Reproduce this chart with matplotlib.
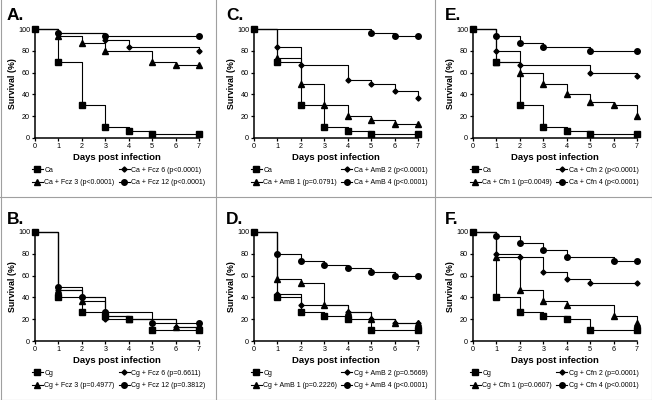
import matplotlib
matplotlib.use('Agg')
import matplotlib.pyplot as plt
from matplotlib.lines import Line2D

plt.rcParams['font.family'] = ['Liberation Sans', 'DejaVu Sans']

# control curves
ca_days = [0, 1, 2, 3, 4, 5, 7]
ca_surv = [100, 70, 30, 10, 6.7, 3.3, 3.3]
cg_days = [0, 1, 2, 3, 4, 5, 7]
cg_surv = [100, 40, 26.7, 23.3, 20, 10, 10]

# A. Ca + fluconazole
a_fcz3_days = [0, 1, 2, 3, 5, 6, 7]
a_fcz3_surv = [100, 93.3, 86.7, 80, 70, 66.7, 66.7]
a_fcz6_days = [0, 1, 3, 4, 7]
a_fcz6_surv = [100, 96.7, 90, 83.3, 80]
a_fcz12_days = [0, 1, 3, 7]
a_fcz12_surv = [100, 96.7, 93.3, 93.3]

# C. Ca + amphotericin B
c_amb1_days = [0, 1, 2, 3, 4, 5, 6, 7]
c_amb1_surv = [100, 73.3, 50, 30, 20, 16.7, 13.3, 13.3]
c_amb2_days = [0, 1, 2, 4, 5, 6, 7]
c_amb2_surv = [100, 83.3, 66.7, 53.3, 50, 43.3, 36.7]
c_amb4_days = [0, 5, 6, 7]
c_amb4_surv = [100, 96.7, 93.3, 93.3]

# E. Ca + caspofungin
e_cfn1_days = [0, 1, 2, 3, 4, 5, 6, 7]
e_cfn1_surv = [100, 70, 60, 50, 40, 33.3, 30, 20]
e_cfn2_days = [0, 1, 2, 5, 7]
e_cfn2_surv = [100, 80, 66.7, 60, 56.7]
e_cfn4_days = [0, 1, 2, 3, 5, 7]
e_cfn4_surv = [100, 93.3, 86.7, 83.3, 80, 80]

# B. Cg + fluconazole
b_fcz3_days = [0, 1, 2, 3, 4, 6, 7]
b_fcz3_surv = [100, 46.7, 36.7, 23.3, 20, 13.3, 13.3]
b_fcz6_days = [0, 1, 2, 3, 6, 7]
b_fcz6_surv = [100, 46.7, 40, 20, 13.3, 13.3]
b_fcz12_days = [0, 1, 2, 3, 5, 7]
b_fcz12_surv = [100, 50, 40, 26.7, 16.7, 16.7]

# D. Cg + amphotericin B
d_amb1_days = [0, 1, 2, 3, 4, 5, 6, 7]
d_amb1_surv = [100, 56.7, 53.3, 33.3, 26.7, 20, 16.7, 16.7]
d_amb2_days = [0, 1, 2, 4, 5, 6, 7]
d_amb2_surv = [100, 43.3, 33.3, 26.7, 20, 16.7, 16.7]
d_amb4_days = [0, 1, 2, 3, 4, 5, 6, 7]
d_amb4_surv = [100, 80, 73.3, 70, 66.7, 63.3, 60, 60]

# F. Cg + caspofungin
f_cfn1_days = [0, 1, 2, 3, 4, 6, 7]
f_cfn1_surv = [100, 76.7, 46.7, 36.7, 33.3, 23.3, 16.7]
f_cfn2_days = [0, 1, 2, 3, 4, 5, 7]
f_cfn2_surv = [100, 80, 76.7, 63.3, 56.7, 53.3, 53.3]
f_cfn4_days = [0, 1, 2, 3, 4, 6, 7]
f_cfn4_surv = [100, 96.7, 90, 83.3, 76.7, 73.3, 73.3]

labels_a = ['Ca', 'Ca + Fcz 3 (p<0.0001)', 'Ca + Fcz 6 (p<0.0001)', 'Ca + Fcz 12 (p<0.0001)']
labels_c = ['Ca', 'Ca + AmB 1 (p=0.0791)', 'Ca + AmB 2 (p<0.0001)', 'Ca + AmB 4 (p<0.0001)']
labels_e = ['Ca', 'Ca + Cfn 1 (p=0.0049)', 'Ca + Cfn 2 (p<0.0001)', 'Ca + Cfn 4 (p<0.0001)']
labels_b = ['Cg', 'Cg + Fcz 3 (p=0.4977)', 'Cg + Fcz 6 (p=0.6611)', 'Cg + Fcz 12 (p=0.3812)']
labels_d = ['Cg', 'Cg + AmB 1 (p=0.2226)', 'Cg + AmB 2 (p=0.5669)', 'Cg + AmB 4 (p<0.0001)']
labels_f = ['Cg', 'Cg + Cfn 1 (p=0.0607)', 'Cg + Cfn 2 (p=0.0001)', 'Cg + Cfn 4 (p<0.0001)']

W, H = 652, 400
# control, low dose (triangle), mid dose (diamond), high dose (circle)
MARKERS = [('s', 4.6), ('^', 3.8), ('D', 2.6), ('o', 4.0)]


def draw_panel(fig, left_px, top_px, letter, series, labels):
    ax = fig.add_axes([left_px / W, (H - top_px - 109) / H, 164 / W, 109 / H])
    for i, (days, surv) in enumerate(series):
        m, ms = MARKERS[i]
        start = 0 if i == 0 else 1
        ax.plot(days, surv, drawstyle='steps-post', color='black', lw=0.8,
                marker=m, ms=ms, markevery=slice(start, None), clip_on=False,
                label=labels[i], zorder=3 + (3 - i))
    ax.set_xlim(0, 7)
    ax.set_ylim(0, 100)
    ax.set_xticks(range(8))
    ax.set_yticks(range(0, 101, 20))
    ax.spines['top'].set_visible(False)
    ax.spines['right'].set_visible(False)
    for s in ('left', 'bottom'):
        ax.spines[s].set_linewidth(1.1)
    ax.tick_params(direction='out', length=2.5, width=0.9, labelsize=5.2, pad=1)
    ax.set_xlabel('Days post infection', fontsize=6.8, fontweight='bold', labelpad=2)
    ax.set_ylabel('Survival (%)', fontsize=6.4, fontweight='bold', labelpad=1)
    ax.legend(loc='upper left', bbox_to_anchor=(-0.02, -0.265), ncol=2, frameon=False,
              fontsize=5, handlelength=1.6, handletextpad=0.2, columnspacing=0.6,
              labelspacing=0.75, borderpad=0, borderaxespad=0)
    fig.text((left_px - 28) / W, 1 - (top_px - 13) / H, letter, fontsize=12.5,
             fontweight='bold', va='center', ha='left')
    return ax


def main():
    fig = plt.figure(figsize=(W / 100, H / 100), dpi=100)

    draw_panel(fig, 35, 29, 'A.',
               [(ca_days, ca_surv), (a_fcz3_days, a_fcz3_surv),
                (a_fcz6_days, a_fcz6_surv), (a_fcz12_days, a_fcz12_surv)], labels_a)
    draw_panel(fig, 254, 29, 'C.',
               [(ca_days, ca_surv), (c_amb1_days, c_amb1_surv),
                (c_amb2_days, c_amb2_surv), (c_amb4_days, c_amb4_surv)], labels_c)
    draw_panel(fig, 473, 29, 'E.',
               [(ca_days, ca_surv), (e_cfn1_days, e_cfn1_surv),
                (e_cfn2_days, e_cfn2_surv), (e_cfn4_days, e_cfn4_surv)], labels_e)
    draw_panel(fig, 35, 232, 'B.',
               [(cg_days, cg_surv), (b_fcz3_days, b_fcz3_surv),
                (b_fcz6_days, b_fcz6_surv), (b_fcz12_days, b_fcz12_surv)], labels_b)
    draw_panel(fig, 254, 232, 'D.',
               [(cg_days, cg_surv), (d_amb1_days, d_amb1_surv),
                (d_amb2_days, d_amb2_surv), (d_amb4_days, d_amb4_surv)], labels_d)
    draw_panel(fig, 473, 232, 'F.',
               [(cg_days, cg_surv), (f_cfn1_days, f_cfn1_surv),
                (f_cfn2_days, f_cfn2_surv), (f_cfn4_days, f_cfn4_surv)], labels_f)

    # thin grey frames around the panels
    grey = '#a0a0a0'
    for x in (0.5, 216, 435, 651.5):
        fig.add_artist(Line2D([x / W, x / W], [0, 1], color=grey, lw=0.8))
    for y in (197, 399.5):
        fig.add_artist(Line2D([0, 1], [1 - y / H, 1 - y / H], color=grey, lw=0.8))

    fig.savefig('out.png', dpi=100)


if __name__ == "__main__":
    main()
